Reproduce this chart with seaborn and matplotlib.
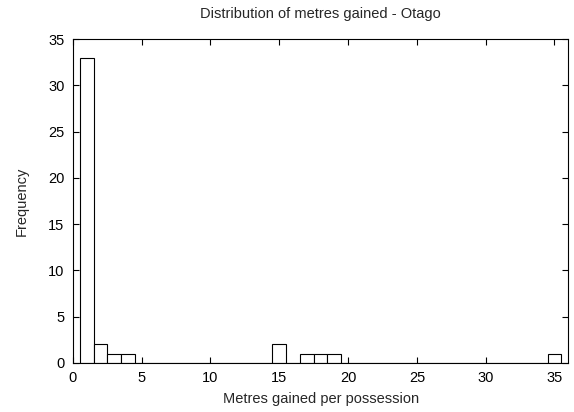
import matplotlib
matplotlib.use("Agg")
import matplotlib.pyplot as plt
import seaborn as sns

metres = [1, 2, 3, 4, 15, 17, 18, 19, 35]
frequency = [33, 2, 1, 1, 2, 1, 1, 1, 1]
x_ticks = [0, 5, 10, 15, 20, 25, 30, 35]
y_ticks = [0, 5, 10, 15, 20, 25, 30, 35]

sns.set_style("ticks")
plt.rcParams['font.family'] = ['Liberation Sans', 'DejaVu Sans']

fig = plt.figure(figsize=(5.74, 4.12), dpi=100)
ax = fig.add_axes([0.127, 0.119, 0.863, 0.786])

sns.histplot(x=metres, weights=frequency, discrete=True, ax=ax,
             color="white", edgecolor="black", linewidth=0.8, alpha=1.0)

ax.set_xlim(0, 36)
ax.set_ylim(0, 35)
ax.set_xticks(x_ticks)
ax.set_yticks(y_ticks)
for s in ax.spines.values():
    s.set_visible(True)
    s.set_linewidth(0.8)
    s.set_color("black")
ax.tick_params(direction="in", top=True, right=True, length=4.5, width=0.8,
               labelsize=10.5, colors="black", pad=6)
ax.set_xlabel("Metres gained per possession", fontsize=10.5, labelpad=5)
ax.set_ylabel("Frequency", fontsize=10.5, labelpad=14)
ax.set_title("Distribution of metres gained - Otago", fontsize=10.5, pad=15)

fig.savefig("out.png", dpi=100)
